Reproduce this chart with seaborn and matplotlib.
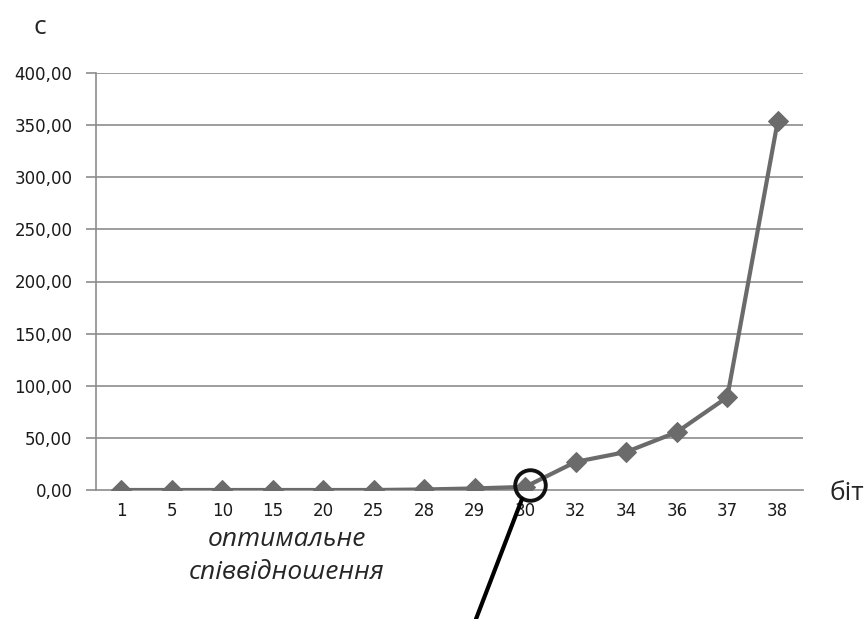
import numpy as np
import pandas as pd
import matplotlib.pyplot as plt
import seaborn as sns

# data
bits = ["1", "5", "10", "15", "20", "25", "28", "29", "30", "32", "34", "36", "37", "38"]
seconds = [0.0, 0.0, 0.0, 0.0, 0.0, 0.0, 0.5, 1.5, 3.0, 27.0, 36.5, 55.5, 89.0, 354.0]

df = pd.DataFrame({"bits": bits, "sec": seconds})
df["pos"] = np.arange(len(bits))

sns.set_style("white")
plt.rcParams["font.family"] = ["DejaVu Sans"]

fig = plt.figure(figsize=(8.66, 6.19), dpi=100)
ax = fig.add_axes([96 / 866, 1 - 490 / 619, (803 - 96) / 866, (490 - 73) / 619])

line_col = "#6b6b6b"
grid_col = "#8c8c8c"

for v in range(50, 401, 50):
    ax.axhline(v, color=grid_col, lw=1.2, zorder=0)

sns.lineplot(data=df, x="pos", y="sec", ax=ax, color=line_col, lw=3,
             marker="D", markersize=10, markeredgecolor=line_col, zorder=3)

ax.set_xlim(-0.5, len(bits) - 0.5)
ax.set_ylim(0, 400)
ax.set_yticks(range(0, 401, 50))
ax.set_yticklabels([f"{v:.2f}".replace(".", ",") for v in range(0, 401, 50)], fontsize=12, color="#1a1a1a")
ax.set_xticks(df["pos"])
ax.set_xticklabels(bits, fontsize=12, color="#1a1a1a")
ax.set_xticks(np.arange(-0.5, len(bits)), minor=True)
ax.tick_params(axis="x", which="major", length=0, pad=9)
ax.tick_params(axis="x", which="minor", length=5, width=1.2, color=grid_col, direction="out")
ax.tick_params(axis="y", length=7, width=1.2, color=grid_col, direction="out", left=True, pad=10)

for s in ["top", "right"]:
    ax.spines[s].set_visible(False)
for s in ["left", "bottom"]:
    ax.spines[s].set_color(grid_col)
    ax.spines[s].set_linewidth(1.2)

ax.set_xlabel("")
ax.set_ylabel("")
fig.text(40 / 866, 1 - 28 / 619, "c", fontsize=19, ha="center", va="center",
         family=["Open Sans", "DejaVu Sans"])
fig.text(847 / 866, 1 - 494 / 619, "біт", fontsize=19, ha="center", va="center",
         family=["Open Sans", "DejaVu Sans"])

# optimum marker
ax.plot([8.1], [df["sec"][8] + 2], marker="o", markersize=22, mfc="none",
        mec="#111111", mew=2.8, clip_on=False, zorder=4)
fig.add_artist(plt.Line2D([522 / 866, 476 / 866], [1 - 499 / 619, 1 - 619 / 619],
                          color="black", lw=3))
fig.text(287 / 866, 1 - 556 / 619, "оптимальне\nспіввідношення", fontsize=19,
         style="italic", ha="center", va="center", linespacing=1.45,
         family=["Open Sans", "DejaVu Sans"])

fig.savefig("out.png", dpi=100)
